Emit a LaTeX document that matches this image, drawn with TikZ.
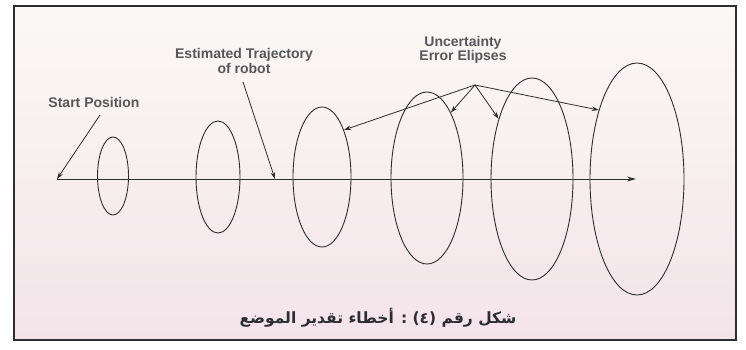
\documentclass[tikz,border=0pt]{standalone}
\usepackage{fontspec}
\setmainfont{Liberation Sans}[BoldFont={Liberation Sans Bold}]
\newfontfamily\arabicfont[Script=Arabic]{DejaVu Sans}
\TeXXeTstate=1
\usetikzlibrary{arrows.meta,shapes.geometric}
\definecolor{inkc}{RGB}{45,45,50}
\definecolor{bgtop}{RGB}{251,248,246}
\definecolor{bgbot}{RGB}{243,228,233}
\begin{document}
\begin{tikzpicture}[x=1pt,y=-1pt,
  ell/.style={ellipse,draw=inkc,line width=0.9pt,inner sep=0pt},
  lbl/.style={font=\bfseries\fontsize{14}{14.5}\selectfont,text=inkc!80,align=center,inner sep=0pt},
  ptr/.style={draw=inkc,line width=0.8pt,-{Stealth[length=7pt,width=4.5pt]}},
  axis/.style={draw=inkc,line width=1pt,-{Stealth[length=9pt,width=5pt]}}]
\useasboundingbox (0,0) rectangle (746,349);
\fill[white] (0,0) rectangle (746,349);
\shade[top color=bgtop,bottom color=bgbot] (14,6) rectangle (736,340);
\draw[inkc,line width=1.8pt] (14,6) rectangle (736,340);
% ellipses
\node[ell,minimum width=31pt,minimum height=78pt] (e1) at (113,176) {};
\node[ell,minimum width=44pt,minimum height=112pt] (e2) at (218,177) {};
\node[ell,minimum width=58pt,minimum height=140pt] (e3) at (322,177) {};
\node[ell,minimum width=72pt,minimum height=172pt] (e4) at (427,178) {};
\node[ell,minimum width=82pt,minimum height=202pt] (e5) at (532,179) {};
\node[ell,minimum width=94pt,minimum height=232pt] (e6) at (637,179) {};
% axis
\coordinate (start) at (57,179);
\coordinate (stop) at (636,179);
\coordinate (traj) at (275,179);
\draw[axis] (start) -- (stop);
% labels
\node[lbl] (sp) at (94,102) {Start Position};
\node[lbl] (et) at (244,61) {Estimated Trajectory\\of robot};
\node[lbl] (ue) at (463,50) {Uncertainty\\Error Elipses};
\coordinate (spf) at (100,115);
\coordinate (etf) at (243,82);
\coordinate (hub) at (475,85);
\draw[ptr] (spf) -- (start);
\draw[ptr] (etf) -- (traj);
\draw[ptr] (hub) -- (e3.65);
\draw[ptr] (hub) -- (e4.70);
\draw[ptr] (hub) -- (e5.119);
\draw[ptr] (hub) -- (e6.119);
% caption
\node[font=\arabicfont\bfseries\fontsize{15.5}{17}\selectfont,text=inkc,inner sep=0pt] (cap) at (378,318) {\beginR شكل رقم (٤) : أخطاء تقدير الموضع\endR};
\end{tikzpicture}
\end{document}
